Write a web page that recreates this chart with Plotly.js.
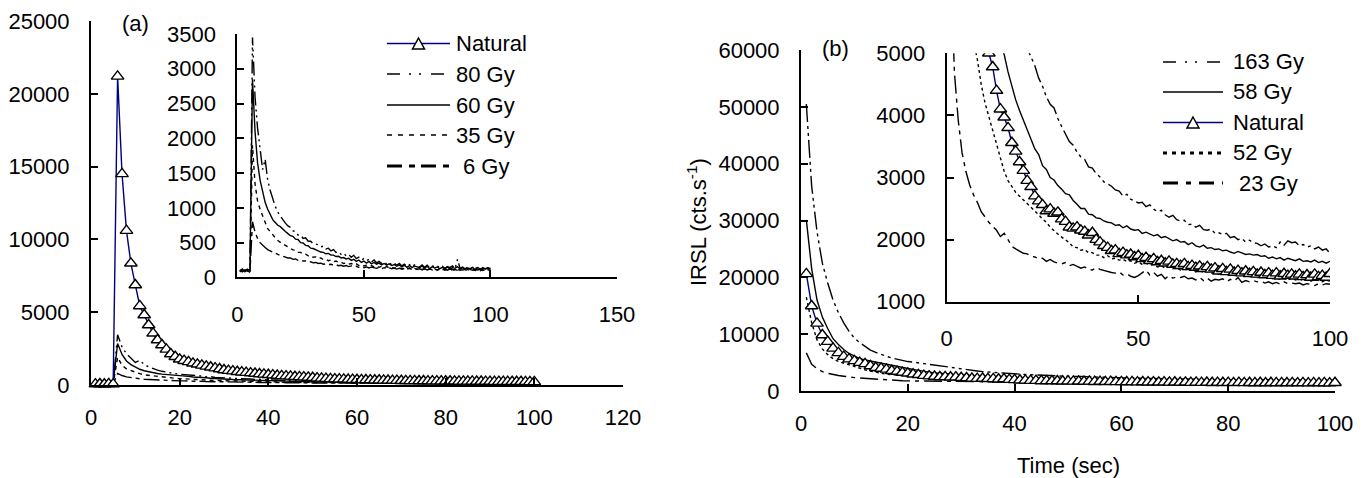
<!DOCTYPE html>
<html>
<head>
<meta charset="utf-8">
<script src="https://cdn.plot.ly/plotly-3.0.1.min.js"></script>
<style>html,body{margin:0;padding:0;background:#fff;}#chart{width:1369px;height:478px;}</style>
</head>
<body>
<div id="chart"></div>
<script>
// ---------- DATA ----------
const time = [1,2,3,4,5,6,7,8,9,10,11,12,13,14,15,16,17,18,19,20,21,22,23,24,25,26,27,28,29,30,31,32,33,34,35,36,37,38,39,40,41,42,43,44,45,46,47,48,49,50,51,52,53,54,55,56,57,58,59,60,61,62,63,64,65,66,67,68,69,70,71,72,73,74,75,76,77,78,79,80,81,82,83,84,85,86,87,88,89,90,91,92,93,94,95,96,97,98,99,100];

// Panel (a)
const seriesNamesA = ["Natural", "80 Gy", "60 Gy", "35 Gy", "6 Gy"];
const naturalA = [60,70,50,80,60,
  21200,14500,10600,8360,6870,5430,4810,4120,3550,3090,2750,2450,2130,1940,1765,
  1670,1590,1490,1420,1350,1280,1220,1160,1100,1030,
  990,950,910,880,850,820,790,755,730,705,
  680,655,630,610,590,570,555,540,520,500,
  470,455,440,420,410,400,390,380,370,360,
  355,345,340,330,325,320,310,305,300,295,
  290,285,282,278,275,270,268,265,262,260,
  258,255,252,250,248,245,243,240,238,236,
  234,232,230,228,226,224,222,220,218,216];
const gy80A = [90,120,80,110,100,
  3450,2600,2150,1850,1550,1700,1400,1250,1120,1020,940,875,830,780,740,
  720,670,660,610,610,560,570,520,520,480,
  480,470,440,450,410,420,380,400,360,370,
  330,350,310,330,290,320,270,290,250,270,
  240,260,220,250,210,230,200,225,190,215,
  180,205,175,200,165,190,160,185,150,180,
  160,150,180,145,175,140,170,145,165,135,
  160,130,155,140,165,125,260,130,150,120,
  150,120,145,125,150,115,140,120,135,130];
const gy60A = [100,80,110,90,120,
  2850,2100,1650,1400,1220,1080,980,900,830,790,750,730,690,660,630,
  600,590,550,545,500,495,460,455,420,415,
  395,375,365,360,340,345,320,320,300,305,
  280,285,265,275,245,260,230,250,215,235,
  205,230,195,215,190,205,180,200,175,195,
  170,185,160,180,150,175,145,170,140,165,
  150,140,165,130,160,125,155,135,150,125,
  145,125,150,120,140,130,155,115,140,120,
  135,125,145,110,140,120,130,125,140,120];
const gy35A = [80,110,90,100,70,
  1900,1350,1100,980,880,780,700,660,610,570,530,500,480,460,440,
  420,395,390,360,360,335,335,310,315,290,
  295,270,280,255,260,240,250,225,235,215,
  220,200,210,190,200,180,195,170,185,165,
  175,160,170,150,165,145,160,140,155,135,
  150,130,145,140,125,140,120,135,118,132,
  115,130,112,128,110,125,108,126,105,122,
  118,104,120,100,118,98,115,102,118,100,
  115,98,116,100,112,96,114,98,110,100];
const gy6A = [110,90,100,120,80,
  800,650,560,500,460,430,400,380,360,345,330,315,300,290,280,
  280,260,265,245,250,235,235,220,225,210,
  215,200,205,190,195,185,188,175,182,168,
  175,160,170,155,165,150,160,145,156,140,
  150,135,148,140,130,145,125,140,122,138,
  125,135,120,132,118,128,115,130,112,126,
  118,124,110,122,108,120,112,118,106,117,
  112,120,104,118,108,114,102,116,106,112,
  108,115,102,112,106,116,100,112,104,110];

// Panel (b)
const seriesNamesB = ["163 Gy", "58 Gy", "Natural", "52 Gy", "23 Gy"];
const naturalB = [20600,14960,11900,9860,8680,7500,6700,6050,5600,5300,
  5000,4780,4400,4100,3970,3800,3560,3420,3250,3110,
  2950,2850,2700,2620,2560,2460,2490,2420,2440,2330,
  2290,2200,2180,2200,2150,2130,2070,2110,2000,1960,
  1900,1870,1820,1830,1770,1790,1750,1760,1720,1740,
  1690,1710,1660,1690,1640,1660,1620,1650,1600,1610,
  1580,1610,1560,1580,1550,1570,1530,1560,1520,1540,
  1490,1530,1480,1520,1470,1500,1460,1490,1450,1480,
  1440,1470,1430,1460,1420,1460,1410,1450,1420,1440,
  1410,1440,1400,1430,1390,1440,1400,1420,1390,1450];
const gy163B = [50500,36000,28000,22500,19000,16000,13800,12000,10500,9300,
  8500,7800,7200,6800,6400,6100,5800,5550,5350,5180,
  5080,4950,4800,4600,4470,4300,4180,4120,3950,3820,
  3700,3580,3520,3410,3330,3290,3170,3150,3060,3010,
  2930,2900,2860,2800,2780,2700,2730,2650,2620,2590,
  2600,2530,2560,2490,2450,2470,2400,2360,2390,2320,
  2300,2310,2240,2250,2200,2230,2160,2150,2170,2100,
  2110,2080,2100,2030,2050,2000,2020,1960,1990,1950,
  1940,1900,1930,1880,1900,1870,1960,1910,1980,1950,
  1960,1900,1920,1880,1900,1850,1880,1830,1850,1780];
const gy58B = [30100,21500,16000,13000,11000,9200,8200,7300,6600,6100,
  5700,5450,5250,5100,4980,4700,4470,4250,4080,3930,
  3780,3630,3460,3370,3190,3130,3000,2960,2870,2810,
  2740,2720,2630,2570,2500,2500,2410,2400,2350,2340,
  2300,2280,2270,2230,2240,2190,2220,2170,2150,2160,
  2100,2120,2090,2060,2080,2030,2050,2010,1980,2000,
  1960,1970,1920,1950,1900,1880,1910,1860,1870,1840,
  1850,1820,1830,1800,1780,1810,1790,1760,1770,1750,
  1760,1730,1740,1700,1720,1690,1710,1670,1700,1680,
  1660,1690,1650,1660,1640,1670,1630,1650,1620,1650];
const gy52B = [16500,12000,9000,7400,6400,5700,5200,4900,4500,4200,
  3980,3720,3500,3300,3100,2950,2850,2760,2700,2640,
  2580,2520,2470,2400,2330,2280,2200,2140,2090,2040,
  1990,1950,1880,1870,1830,1840,1790,1790,1750,1750,
  1710,1740,1690,1700,1670,1680,1650,1660,1620,1640,
  1600,1620,1590,1600,1560,1580,1540,1560,1530,1540,
  1510,1530,1500,1520,1480,1500,1470,1490,1460,1470,
  1440,1470,1430,1450,1420,1440,1410,1430,1400,1420,
  1390,1410,1380,1400,1370,1390,1360,1380,1350,1380,
  1350,1370,1340,1360,1330,1360,1340,1320,1350,1330];
const gy23B = [6700,4700,3930,3400,3100,2880,2720,2600,2450,2360,
  2280,2210,2150,2050,2100,2000,1890,1850,1810,1780,
  1770,1730,1720,1690,1700,1650,1680,1640,1620,1610,
  1630,1580,1600,1570,1540,1560,1520,1510,1550,1520,
  1500,1490,1470,1460,1480,1430,1450,1410,1390,1420,
  1460,1510,1430,1470,1410,1440,1370,1420,1380,1400,
  1390,1410,1370,1380,1350,1390,1340,1380,1330,1360,
  1350,1370,1320,1360,1330,1390,1310,1340,1320,1340,
  1320,1330,1300,1320,1290,1310,1280,1320,1290,1300,
  1290,1300,1270,1290,1280,1260,1290,1270,1290,1280];

// ---------- STYLES ----------
const W = 1369, H = 478;
const FONT = "Arial, 'Liberation Sans', sans-serif";
const NAVY = "#000080";
const dataDash = {"80 Gy": "14px,4px,2px,4px,2px,4px", "60 Gy": "solid", "35 Gy": "4px,4px", "6 Gy": "16px,4px,4px,4px",
  "163 Gy": "18px,4px,3px,4px,3px,4px", "58 Gy": "solid", "52 Gy": "3px,3px", "23 Gy": "18px,5px,4px,5px"};
const legStyle = {
  "Natural": {natural: true},
  "80 Gy": {width: 1.5, dash: "13px,9px,2px,8px,2px,10px"},
  "60 Gy": {width: 1.5, dash: "solid"},
  "35 Gy": {width: 1.5, dash: "5px,6px"},
  "6 Gy": {width: 3, dash: "15px,7px,6px,6px"},
  "163 Gy": {width: 1.5, dash: "13px,9px,2px,8px,2px,10px"},
  "58 Gy": {width: 1.5, dash: "solid"},
  "52 Gy": {width: 3, dash: "4px,5px"},
  "23 Gy": {width: 3, dash: "15px,8px,5px,8px"}
};
const px = x => x / W;
const py = y => 1 - y / H;

function lineTrace(x, y, xa, ya, dash) {
  return {x: x, y: y, xaxis: xa, yaxis: ya, type: "scatter", mode: "lines",
    line: {color: "#000", width: 1.4, dash: dash}, hoverinfo: "skip", cliponaxis: true};
}
function natTrace(x, y, xa, ya, clip) {
  return {x: x, y: y, xaxis: xa, yaxis: ya, type: "scatter", mode: "lines+markers",
    line: {color: NAVY, width: 1.4},
    marker: {symbol: "triangle-up", size: 11, color: "#fff", line: {color: "#000", width: 1.4}},
    hoverinfo: "skip", cliponaxis: clip};
}

const aSeries = [[gy80A, "80 Gy"], [gy60A, "60 Gy"], [gy35A, "35 Gy"], [gy6A, "6 Gy"]];
const bSeries = [[gy163B, "163 Gy"], [gy58B, "58 Gy"], [gy52B, "52 Gy"], [gy23B, "23 Gy"]];

const traces = [];
aSeries.forEach(s => traces.push(lineTrace(time, s[0], "x", "y", dataDash[s[1]])));
traces.push(natTrace(time, naturalA, "x", "y", false));
aSeries.forEach(s => traces.push(lineTrace(time, s[0], "x2", "y2", dataDash[s[1]])));
bSeries.forEach(s => traces.push(lineTrace(time, s[0], "x3", "y3", dataDash[s[1]])));
traces.push(natTrace(time, naturalB, "x3", "y3", false));
bSeries.forEach(s => traces.push(lineTrace(time, s[0], "x4", "y4", dataDash[s[1]])));
traces.push(natTrace(time, naturalB, "x4", "y4", true));

function axis(dom, range, dtick, anchor, standoff) {
  return {domain: dom, range: range, tick0: range[0], dtick: dtick, anchor: anchor,
    showline: true, linecolor: "#000", linewidth: 2, mirror: false,
    ticks: "inside", ticklen: 7, tickwidth: 2, tickcolor: "#000",
    showgrid: false, zeroline: false, tickformat: "d", fixedrange: true,
    ticklabelstandoff: standoff,
    tickfont: {family: FONT, size: 22, color: "#000"}};
}

const layout = {
  width: W, height: H, margin: {l: 0, r: 0, t: 0, b: 0},
  paper_bgcolor: "#fff", plot_bgcolor: "rgba(0,0,0,0)", showlegend: false,
  xaxis:  axis([px(91), px(623)], [0, 120], 20, "y", 12),
  yaxis:  axis([py(385), py(21)], [0, 25000], 5000, "x", 15),
  xaxis2: axis([px(237.3), px(617)], [0, 150], 50, "y2", 16),
  yaxis2: axis([py(277.4), py(34)], [0, 3500], 500, "x2", 15),
  xaxis3: axis([px(801), px(1335)], [0, 100], 20, "y3", 12),
  yaxis3: axis([py(391), py(50)], [0, 60000], 10000, "x3", 15),
  xaxis4: axis([px(946.7), px(1330)], [0, 100], 50, "y4", 16),
  yaxis4: axis([py(301.7), py(53.3)], [1000, 5000], 1000, "x4", 15),
  annotations: [],
  shapes: []
};

function txt(text, x, y, xanchor, extra) {
  return Object.assign({text: text, x: px(x), y: py(y), xref: "paper", yref: "paper",
    xanchor: xanchor, yanchor: "middle", showarrow: false,
    font: {family: FONT, size: 22, color: "#000"}}, extra || {});
}
layout.annotations.push(txt("(a)", 135.5, 23, "center"));
layout.annotations.push(txt("(b)", 835, 48, "center"));
layout.annotations.push(txt("IRSL (cts.s<sup>-1</sup>)", 697, 222, "center", {textangle: -90}));
layout.annotations.push(txt("Time (sec)", 1068, 465, "center"));

// Legend builder (samples drawn as shapes, labels as annotations)
function legendRow(x0, x1, y, label, tx) {
  const style = legStyle[label];
  if (style.natural) {
    layout.shapes.push({type: "line", xref: "paper", yref: "paper", x0: px(x0), x1: px(x1), y0: py(y), y1: py(y),
      line: {color: NAVY, width: 1.5}});
    const cx = (x0 + x1) / 2, h = 11, w = 12;
    const p = `M ${px(cx)} ${py(y - h/2)} L ${px(cx + w/2)} ${py(y + h/2)} L ${px(cx - w/2)} ${py(y + h/2)} Z`;
    layout.shapes.push({type: "path", xref: "paper", yref: "paper", path: p, fillcolor: "#fff",
      line: {color: "#000", width: 1.5}});
  } else {
    layout.shapes.push({type: "line", xref: "paper", yref: "paper", x0: px(x0), x1: px(x1), y0: py(y), y1: py(y),
      line: {color: "#000", width: style.width, dash: style.dash}});
  }
  layout.annotations.push(txt(label, tx, y, "left"));
}
const rowsA = [43.5, 74, 105, 135, 166];
seriesNamesA.forEach((n, i) => legendRow(387, 450, rowsA[i], n, n === "6 Gy" ? 461 : 454));
const rowsB = [62, 92, 122.5, 153, 183];
seriesNamesB.forEach((n, i) => legendRow(1163, 1223, rowsB[i], n, n === "23 Gy" ? 1237 : 1231));

Plotly.newPlot("chart", traces, layout, {staticPlot: true, displayModeBar: false});
</script>
</body>
</html>
